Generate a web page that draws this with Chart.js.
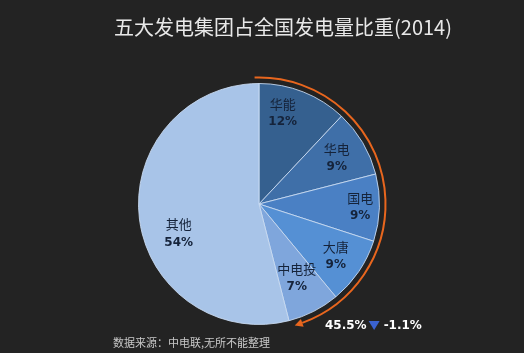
<!DOCTYPE html>
<html><head><meta charset="utf-8">
<script src="https://cdn.jsdelivr.net/npm/chart.js@4/dist/chart.umd.min.js"></script>
<style>html,body{margin:0;padding:0;background:#232323;}#c{display:block;}</style>
</head><body>
<canvas id="c" width="524" height="353"></canvas>
<script>
const title = '五大发电集团占全国发电量比重(2014)';
const categories = ['华能','华电','国电','大唐','中电投','其他'];
const shares = [12, 9, 9, 9, 7, 54];
const sliceColors = ['#35608f','#3f6fa8','#4a80c4','#5590d4','#7fa6dc','#a8c4e8'];
const totalText = '45.5%';
const changeText = '-1.1%';
const sourceText = '数据来源：中电联,无所不能整理';
const FONT = '"Noto Sans CJK SC", "Noto Sans", sans-serif';

const deco = {
  id: 'deco',
  afterDatasetsDraw(chart) {
    const ctx = chart.ctx;
    const meta = chart.getDatasetMeta(0);
    const a0 = meta.data[0];
    const cx = a0.x, cy = a0.y, R = a0.outerRadius;
    const angShift = [-7, 0, 0, 0, 0, -13];
    const radF = [0.78, 0.75, 0.84, 0.77, 0.69, 0.71];
    ctx.save();
    ctx.textAlign = 'center';
    ctx.textBaseline = 'middle';
    meta.data.forEach((arc, i) => {
      const mid = (arc.startAngle + arc.endAngle) / 2 + angShift[i] * Math.PI / 180;
      const x = cx + Math.cos(mid) * R * radF[i];
      const y = cy + Math.sin(mid) * R * radF[i];
      ctx.fillStyle = '#15233a';
      ctx.font = '13px ' + FONT;
      ctx.fillText(categories[i], x, y - 9);
      ctx.font = 'bold 12px "DejaVu Sans", sans-serif';
      ctx.fillText(shares[i] + '%', x, y + 9);
    });
    // orange arc with arrow
    const r = R + 6;
    const s = -92 * Math.PI / 180, e = 70 * Math.PI / 180;
    ctx.strokeStyle = '#e8661e';
    ctx.lineWidth = 2;
    ctx.beginPath();
    ctx.arc(cx, cy, r, s, e);
    ctx.stroke();
    const ex = cx + Math.cos(e) * r, ey = cy + Math.sin(e) * r;
    const tx = -Math.sin(e), ty = Math.cos(e);
    const nx = Math.cos(e), ny = Math.sin(e);
    ctx.fillStyle = '#e8661e';
    ctx.beginPath();
    ctx.moveTo(ex + tx * 8, ey + ty * 8);
    ctx.lineTo(ex + nx * 4, ey + ny * 4);
    ctx.lineTo(ex - nx * 4, ey - ny * 4);
    ctx.closePath();
    ctx.fill();
    // title
    ctx.textAlign = 'center';
    ctx.textBaseline = 'middle';
    ctx.fillStyle = '#e8e8e8';
    ctx.font = '20px ' + FONT;
    ctx.fillText(title, 283, 27);
    // total
    ctx.textAlign = 'left';
    ctx.font = 'bold 12px "DejaVu Sans", sans-serif';
    ctx.fillStyle = '#ffffff';
    ctx.fillText(totalText, 325, 326);
    const w = ctx.measureText(totalText).width;
    const tx0 = 325 + w + 2;
    ctx.fillStyle = '#3a62d0';
    ctx.beginPath();
    ctx.moveTo(tx0, 321); ctx.lineTo(tx0 + 11, 321); ctx.lineTo(tx0 + 5.5, 330); ctx.closePath(); ctx.fill();
    ctx.fillStyle = '#ffffff';
    ctx.fillText(changeText, tx0 + 15, 326);
    // source
    ctx.font = '11px ' + FONT;
    ctx.fillStyle = '#c8c8c8';
    ctx.fillText(sourceText, 113, 343);
    ctx.restore();
  }
};

new Chart(document.getElementById('c'), {
  type: 'pie',
  data: {
    labels: categories,
    datasets: [{
      data: shares,
      backgroundColor: sliceColors,
      borderColor: 'rgba(205,222,245,0.85)',
      borderWidth: 1
    }]
  },
  options: {
    responsive: false,
    animation: false,
    layout: { padding: { top: 83, bottom: 28, left: 138, right: 144 } },
    plugins: { legend: { display: false }, tooltip: { enabled: false } }
  },
  plugins: [deco]
});
</script>
</body></html>
